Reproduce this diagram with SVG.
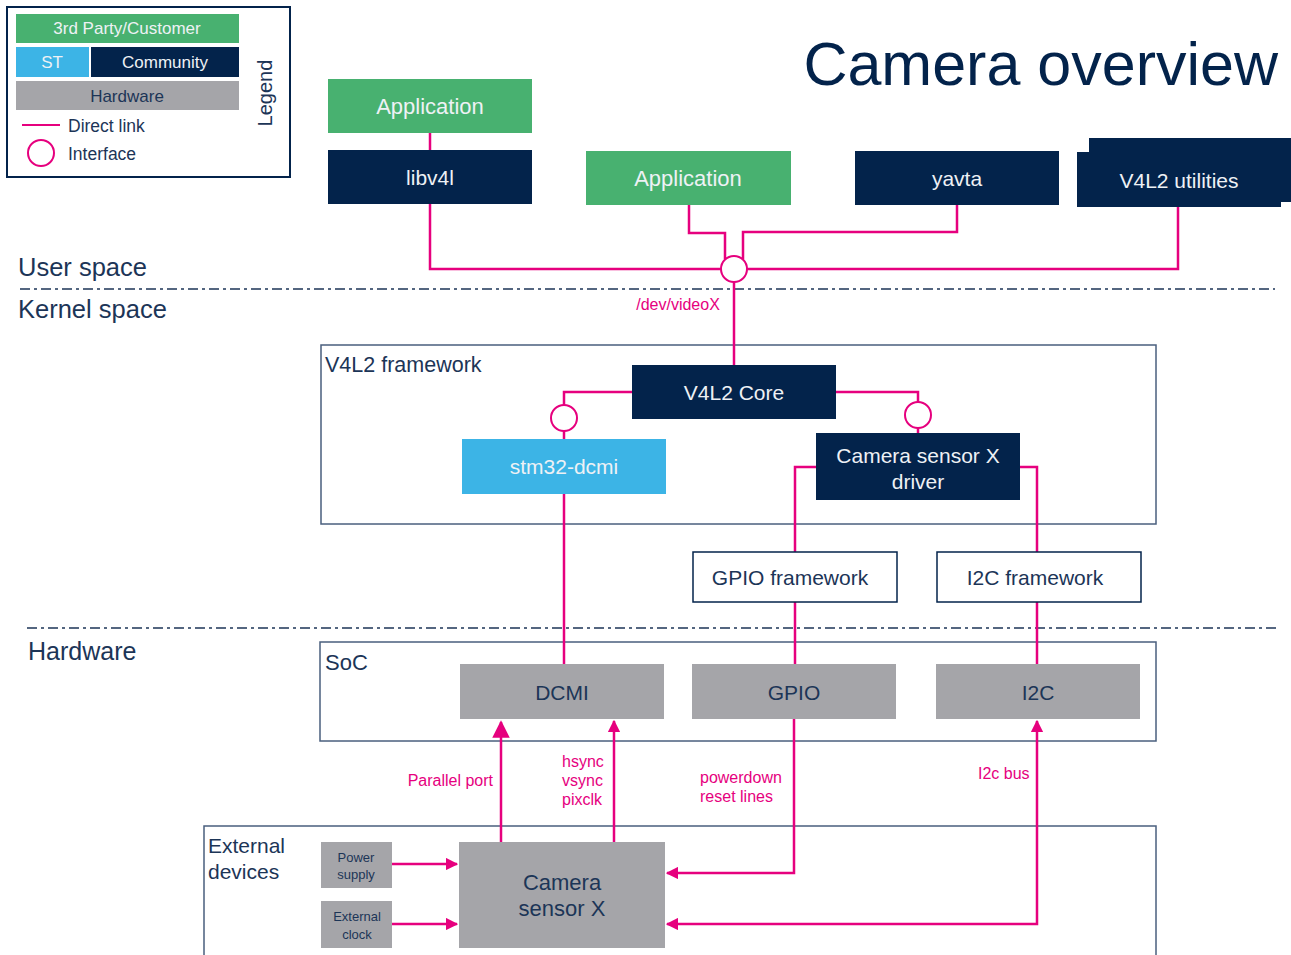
<svg xmlns="http://www.w3.org/2000/svg" width="1291" height="955" viewBox="0 0 1291 955">
<defs>
<style>
text{font-family:"Liberation Sans",Arial,sans-serif}
.g{fill:#48b170}
.n{fill:#03234b}
.b{fill:#3cb4e6}
.h{fill:#a5a5a9}
.wt{fill:#eef1f5;text-anchor:middle}
.dt{fill:#1c3557;text-anchor:middle}
.lbl{fill:#1c3557}
.pk{fill:#e6007e;font-size:16px}
.frame{fill:#fff;stroke:#4a5f7e;stroke-width:1.5}
.wire{fill:none;stroke:#e6007e;stroke-width:2.5}
.ifc{fill:#fff;stroke:#e6007e;stroke-width:2}
.sep{stroke:#1c3557;stroke-width:1.5;stroke-dasharray:10 4 3 4}
</style>
<marker id="ah" viewBox="0 0 10 10" refX="9" refY="5" markerWidth="5" markerHeight="5" orient="auto-start-reverse" markerUnits="strokeWidth"><path d="M0,0L10,5L0,10z" fill="#e6007e"/></marker>
<marker id="ahb" viewBox="0 0 10 10" refX="9" refY="5" markerWidth="7" markerHeight="7" orient="auto-start-reverse" markerUnits="strokeWidth"><path d="M0,0L10,5L0,10z" fill="#e6007e"/></marker>
</defs>
<rect width="1291" height="955" fill="#fff"/>

<g id="legend">
<rect x="7" y="7" width="283" height="170" fill="#fff" stroke="#03234b" stroke-width="2"/>
<rect class="g" x="16" y="14" width="223" height="29"/>
<text class="wt" x="127" y="34" font-size="17">3rd Party/Customer</text>
<rect class="b" x="16" y="47" width="73" height="30"/>
<text class="wt" x="52" y="68" font-size="17">ST</text>
<rect class="n" x="91" y="47" width="148" height="30"/>
<text class="wt" x="165" y="68" font-size="17">Community</text>
<rect class="h" x="16" y="81" width="223" height="29"/>
<text class="dt" x="127" y="102" font-size="17">Hardware</text>
<line x1="22" y1="125" x2="60" y2="125" stroke="#e6007e" stroke-width="2"/>
<text class="lbl" x="68" y="132" font-size="17.5">Direct link</text>
<circle cx="41" cy="153" r="13" class="ifc"/>
<text class="lbl" x="68" y="160" font-size="17.5">Interface</text>
<text class="lbl" x="0" y="0" font-size="20" text-anchor="middle" transform="translate(272,93) rotate(-90)">Legend</text>
</g>

<text id="title" x="1278" y="85" font-size="61" text-anchor="end" fill="#03234b">Camera overview</text>

<g id="app1"><rect class="g" x="328" y="79" width="204" height="54"/><text class="wt" x="430" y="114" font-size="22">Application</text></g>
<g id="libv4l"><rect class="n" x="328" y="150" width="204" height="54"/><text class="wt" x="430" y="185" font-size="21">libv4l</text></g>
<g id="app2"><rect class="g" x="586" y="151" width="205" height="54"/><text class="wt" x="688" y="186" font-size="22">Application</text></g>
<g id="yavta"><rect class="n" x="855" y="151" width="204" height="54"/><text class="wt" x="957" y="186" font-size="21">yavta</text></g>
<g id="v4l2utils">
<path class="n" d="M1089,138H1291V202H1281V207H1077V152H1089Z"/>
<text class="wt" x="1179" y="188" font-size="21">V4L2 utilities</text>
</g>

<g id="separators">
<line class="sep" x1="20" y1="289" x2="1275" y2="289"/>
<line class="sep" x1="27" y1="628" x2="1278" y2="628"/>
<text class="lbl" x="18" y="276" font-size="25.5">User space</text>
<text class="lbl" x="18" y="318" font-size="25.5">Kernel space</text>
<text class="lbl" x="28" y="660" font-size="25">Hardware</text>
</g>

<g id="v4l2fw"><rect class="frame" x="321" y="345" width="835" height="179"/><text class="lbl" x="325" y="372" font-size="21.5">V4L2 framework</text></g>
<g id="soc"><rect class="frame" x="320" y="642" width="836" height="99"/><text class="lbl" x="325" y="670" font-size="22">SoC</text></g>
<g id="extdev"><rect class="frame" x="204" y="826" width="952" height="140"/><text class="lbl" x="208" y="853" font-size="21">External</text><text class="lbl" x="208" y="879" font-size="21">devices</text></g>

<g id="connectors">
<path class="wire" d="M430,133V150"/>
<path class="wire" d="M430,204V269H721"/>
<path class="wire" d="M689,205V233H725V259"/>
<path class="wire" d="M957,205V232H743V259"/>
<path class="wire" d="M1178,207V269H747"/>
<path class="wire" d="M734,282V365"/>
<path class="wire" d="M632,392H564V405"/>
<path class="wire" d="M564,431V439"/>
<path class="wire" d="M836,392H918V402"/>
<path class="wire" d="M918,428V433"/>
<path class="wire" d="M816,467H795V552"/>
<path class="wire" d="M1020,467H1037V552"/>
<path class="wire" d="M564,494V664"/>
<path class="wire" d="M795,602V664"/>
<path class="wire" d="M1037,602V664"/>
<path class="wire" d="M501,842V722" marker-end="url(#ahb)"/>
<path class="wire" d="M614,842V721" marker-end="url(#ah)"/>
<path class="wire" d="M794,719V873H667" marker-end="url(#ah)"/>
<path class="wire" d="M667,924H1037V721" marker-start="url(#ah)" marker-end="url(#ah)"/>
<path class="wire" d="M392,864H457" marker-end="url(#ah)"/>
<path class="wire" d="M392,924H457" marker-end="url(#ah)"/>
<circle class="ifc" cx="734" cy="269" r="13"/>
<circle class="ifc" cx="564" cy="418" r="13"/>
<circle class="ifc" cx="918" cy="415" r="13"/>
<text class="pk" x="678" y="310" text-anchor="middle">/dev/videoX</text>
<text class="pk" x="493" y="786" text-anchor="end">Parallel port</text>
<text class="pk" x="562" y="767">hsync</text>
<text class="pk" x="562" y="786">vsync</text>
<text class="pk" x="562" y="805">pixclk</text>
<text class="pk" x="700" y="783">powerdown</text>
<text class="pk" x="700" y="802">reset lines</text>
<text class="pk" x="978" y="779">I2c bus</text>
</g>

<g id="v4l2core"><rect class="n" x="632" y="365" width="204" height="54"/><text class="wt" x="734" y="400" font-size="21">V4L2 Core</text></g>
<g id="stm32dcmi"><rect class="b" x="462" y="439" width="204" height="55"/><text class="wt" x="564" y="474" font-size="21">stm32-dcmi</text></g>
<g id="camdriver"><rect class="n" x="816" y="433" width="204" height="67"/><text class="wt" x="918" y="463" font-size="21">Camera sensor X</text><text class="wt" x="918" y="489" font-size="21">driver</text></g>
<g id="gpiofw"><rect x="693" y="552" width="204" height="50" fill="#fff" stroke="#03234b" stroke-width="1.5"/><text class="dt" x="790" y="585" font-size="21">GPIO  framework</text></g>
<g id="i2cfw"><rect x="937" y="552" width="204" height="50" fill="#fff" stroke="#03234b" stroke-width="1.5"/><text class="dt" x="1035" y="585" font-size="21">I2C framework</text></g>
<g id="dcmi"><rect class="h" x="460" y="664" width="204" height="55"/><text class="dt" x="562" y="700" font-size="21">DCMI</text></g>
<g id="gpio"><rect class="h" x="692" y="664" width="204" height="55"/><text class="dt" x="794" y="700" font-size="21">GPIO</text></g>
<g id="i2c"><rect class="h" x="936" y="664" width="204" height="55"/><text class="dt" x="1038" y="700" font-size="21">I2C</text></g>
<g id="power"><rect class="h" x="321" y="842" width="71" height="46"/><text class="dt" x="356" y="862" font-size="13">Power</text><text class="dt" x="356" y="879" font-size="13">supply</text></g>
<g id="clock"><rect class="h" x="321" y="901" width="71" height="47"/><text class="dt" x="357" y="921" font-size="13">External</text><text class="dt" x="357" y="939" font-size="13">clock</text></g>
<g id="camsensor"><rect class="h" x="459" y="842" width="206" height="106"/><text class="dt" x="562" y="890" font-size="22">Camera</text><text class="dt" x="562" y="916" font-size="22">sensor X</text></g>
</svg>
